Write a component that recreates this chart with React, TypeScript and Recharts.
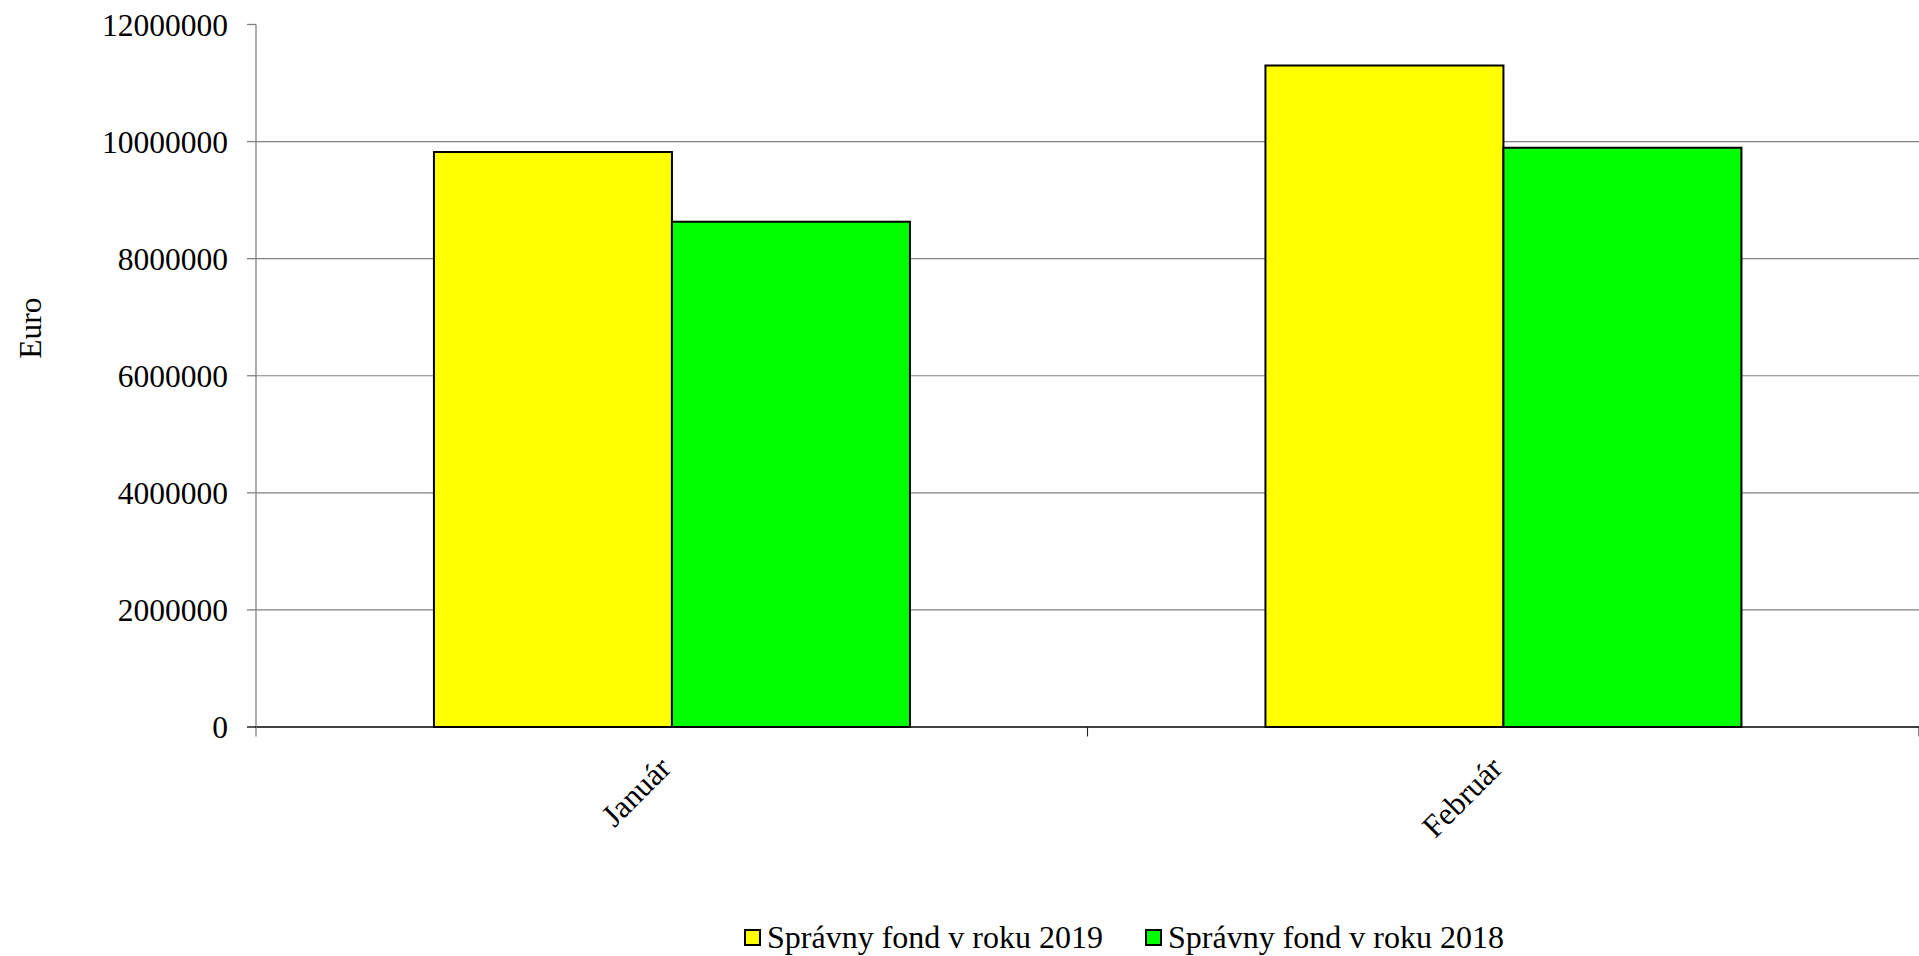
import React from "react";
import {
  BarChart,
  Bar,
  XAxis,
  YAxis,
  CartesianGrid,
  Legend,
} from "recharts";

const months = ["Január", "Február"];
const fund2019 = [9822000, 11300000];
const fund2018 = [8632000, 9896000];
const seriesNames = ["Správny fond v roku 2019", "Správny fond v roku 2018"];
const seriesColors = ["#FFFF00", "#00FF00"];
const yTicks = [0, 2000000, 4000000, 6000000, 8000000, 10000000, 12000000];
const gridValues = [2000000, 4000000, 6000000, 8000000, 10000000];
const yLabel = "Euro";

const data = months.map((m, i) => ({
  month: m,
  y2019: fund2019[i],
  y2018: fund2018[i],
}));

const FONT = '"Liberation Serif", "Times New Roman", Times, serif';
const FS = 31.5;
const LEGEND_FS = 32;

const YTick = (props: any) => {
  const { x, y, payload } = props;
  const isZero = payload.value === 0;
  return (
    <g>
      <line
        x1={x + 19}
        x2={x + 28}
        y1={y}
        y2={y}
        stroke={isZero ? "#000000" : "#808080"}
        strokeWidth={1.3}
      />
      <text
        x={x}
        y={y}
        dy="0.355em"
        textAnchor="end"
        fontFamily={FONT}
        fontSize={FS}
        fill="#000"
      >
        {String(payload.value)}
      </text>
    </g>
  );
};

const XTick = (props: any) => {
  const { x, y, payload, index } = props;
  const off = payload && typeof payload.offset === "number" ? payload.offset : 0;
  const tx = x + 1;
  const ty = y + 43;
  return (
    <g>
      {index === 0 && off > 0 ? (
        <line x1={x - off} x2={x - off} y1={y} y2={y + 9.5} stroke="#808080" strokeWidth={1.3} />
      ) : null}
      {off > 0 ? (
        <line x1={x + off} x2={x + off} y1={y} y2={y + 9.5} stroke="#222" strokeWidth={1.1} />
      ) : null}
      <text
        x={tx}
        y={ty}
        textAnchor="end"
        transform={`rotate(-45 ${tx} ${ty})`}
        fontFamily={FONT}
        fontSize={FS}
        fill="#000"
      >
        {payload.value}
      </text>
    </g>
  );
};

const LegendContent = (props: any) => {
  const payload = [...(props.payload || [])].sort(
    (a: any, b: any) => seriesNames.indexOf(a.value) - seriesNames.indexOf(b.value)
  );
  return (
    <div
      style={{
        display: "flex",
        alignItems: "center",
        fontFamily: FONT,
        fontSize: LEGEND_FS,
        lineHeight: "32px",
        whiteSpace: "nowrap",
        color: "#000",
      }}
    >
      {payload.map((entry: any, i: number) => (
        <div
          key={i}
          style={{
            display: "flex",
            alignItems: "center",
            marginRight: i < payload.length - 1 ? 42 : 0,
          }}
        >
          <span
            style={{
              display: "inline-block",
              width: 17,
              height: 17,
              boxSizing: "border-box",
              border: "2px solid #000",
              background: (entry.payload && entry.payload.fill) || entry.color,
              marginRight: 6,
            }}
          />
          <span>{entry.value}</span>
        </div>
      ))}
    </div>
  );
};

export default function App() {
  return (
    <div style={{ position: "absolute", left: 0, top: 0, width: 1919, height: 956, background: "#fff" }}>
      <BarChart
        width={1919}
        height={956}
        data={data}
        margin={{ top: 24.5, right: 0, bottom: 0, left: 0 }}
        barCategoryGap="21.4%"
        barGap={0}
      >
        <CartesianGrid
          vertical={false}
          horizontalValues={gridValues}
          stroke="#808080"
          strokeWidth={1.2}
        />
        <XAxis
          dataKey="month"
          height={229}
          tickLine={false}
          tickSize={0}
          tickMargin={0}
          interval={0}
          axisLine={{ stroke: "#000", strokeWidth: 1.3 }}
          tick={<XTick />}
        />
        <YAxis
          width={256}
          domain={[0, 12000000]}
          ticks={yTicks}
          interval={0}
          tickSize={9}
          tickMargin={19}
          tickLine={false}
          axisLine={{ stroke: "#808080", strokeWidth: 1.3 }}
          tick={<YTick />}
          label={{
            content: () => (
              <text
                x={40.5}
                y={328}
                textAnchor="middle"
                transform="rotate(-90 40.5 328)"
                fontFamily={FONT}
                fontSize={FS}
                fill="#000"
              >
                {yLabel}
              </text>
            ),
          }}
        />
        <Legend
          layout="horizontal"
          verticalAlign="middle"
          align="center"
          wrapperStyle={{ top: 921, left: 744, width: "auto" }}
          content={<LegendContent />}
        />
        <Bar
          dataKey="y2019"
          name={seriesNames[0]}
          fill={seriesColors[0]}
          stroke="#000"
          strokeWidth={2}
          isAnimationActive={false}
        />
        <Bar
          dataKey="y2018"
          name={seriesNames[1]}
          fill={seriesColors[1]}
          stroke="#000"
          strokeWidth={2}
          isAnimationActive={false}
        />
      </BarChart>
    </div>
  );
}
